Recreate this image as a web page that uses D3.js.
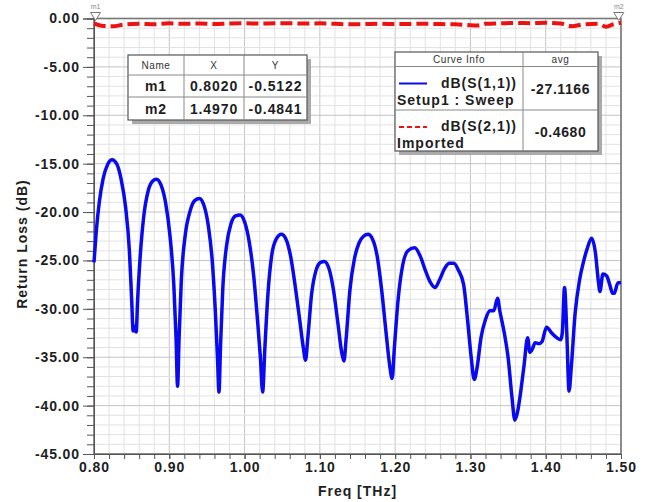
<!DOCTYPE html>
<html>
<head>
<meta charset="utf-8">
<script src="https://cdn.jsdelivr.net/npm/d3@7"></script>
<style>
  body { margin: 0; background: #fff; }
  text { font-family: "Liberation Sans", Arial, sans-serif; }
</style>
</head>
<body>
<div id="chart"></div>
<script>
// S11 (blue): [freq THz, dB]
var s11 = [
  [0.800,-25.2],[0.803,-22.0],[0.807,-19.0],[0.812,-16.6],[0.818,-15.1],[0.824,-14.6],[0.830,-15.0],
  [0.836,-16.6],[0.842,-19.5],[0.847,-24.0],[0.850,-29.0],[0.852,-32.3],[0.854,-31.8],[0.856,-32.4],
  [0.858,-29.0],[0.861,-25.0],[0.866,-20.5],[0.872,-17.8],[0.878,-16.8],[0.883,-16.6],[0.889,-17.2],
  [0.895,-19.0],[0.901,-22.5],[0.906,-27.5],[0.909,-33.0],[0.911,-38.0],[0.913,-33.0],[0.916,-27.0],
  [0.921,-22.5],[0.928,-19.8],[0.934,-18.8],[0.940,-18.6],[0.946,-19.3],[0.952,-21.5],[0.957,-25.0],
  [0.961,-30.0],[0.964,-35.0],[0.966,-38.6],[0.968,-34.0],[0.971,-28.0],[0.976,-23.5],[0.982,-21.2],
  [0.988,-20.4],[0.994,-20.3],[1.000,-21.0],[1.006,-23.0],[1.012,-26.5],[1.017,-31.0],[1.021,-35.0],
  [1.024,-38.6],[1.027,-34.0],[1.031,-28.5],[1.036,-24.5],[1.042,-22.8],[1.049,-22.3],[1.055,-22.8],
  [1.061,-24.5],[1.067,-27.5],[1.073,-31.0],[1.078,-34.0],[1.081,-35.3],[1.084,-33.0],[1.089,-28.5],
  [1.095,-26.0],[1.101,-25.2],[1.106,-25.1],[1.112,-25.8],[1.118,-28.0],[1.124,-31.5],[1.129,-34.5],
  [1.132,-35.4],[1.135,-33.0],[1.140,-28.0],[1.146,-24.8],[1.152,-23.2],[1.158,-22.5],[1.164,-22.3],
  [1.170,-22.8],[1.176,-24.5],[1.182,-28.0],[1.188,-32.5],[1.193,-36.0],[1.196,-37.2],[1.199,-34.0],
  [1.204,-29.0],[1.210,-25.5],[1.217,-24.0],[1.226,-23.7],[1.233,-24.5],[1.240,-26.0],[1.247,-27.3],
  [1.253,-27.8],[1.259,-27.0],[1.266,-25.8],[1.272,-25.3],[1.278,-25.3],[1.284,-26.0],[1.291,-27.5],
  [1.296,-31.0],[1.301,-35.0],[1.305,-37.3],[1.309,-36.0],[1.314,-33.0],[1.320,-31.1],[1.326,-30.2],
  [1.331,-30.2],[1.336,-28.9],[1.339,-30.2],[1.345,-32.5],[1.350,-35.0],[1.355,-39.0],[1.359,-41.5],
  [1.363,-40.5],[1.366,-39.0],[1.371,-36.0],[1.376,-33.0],[1.379,-34.5],[1.382,-34.2],[1.386,-33.5],
  [1.391,-33.6],[1.395,-33.4],[1.401,-31.9],[1.408,-32.5],[1.415,-33.0],[1.420,-33.2],[1.422,-32.5],
  [1.425,-27.8],[1.428,-32.5],[1.431,-38.5],[1.434,-36.0],[1.439,-30.5],[1.445,-27.0],[1.450,-25.2],
  [1.455,-23.8],[1.461,-22.7],[1.466,-24.2],[1.470,-27.2],[1.472,-28.2],[1.476,-26.4],[1.481,-26.6],
  [1.485,-27.5],[1.489,-28.4],[1.491,-28.4],[1.496,-27.3],[1.500,-27.3]
];

// S21 (red dashed), imported
var s21 = [
  [0.800,-0.51],[0.810,-0.75],[0.825,-0.80],[0.840,-0.62],[0.860,-0.55],[0.880,-0.60],[0.900,-0.50],
  [0.920,-0.55],[0.940,-0.52],[0.960,-0.58],[0.980,-0.52],[1.000,-0.50],[1.020,-0.52],[1.040,-0.50],
  [1.060,-0.50],[1.080,-0.52],[1.100,-0.50],[1.120,-0.55],[1.140,-0.60],[1.160,-0.58],[1.180,-0.55],
  [1.200,-0.58],[1.220,-0.56],[1.240,-0.55],[1.260,-0.58],[1.280,-0.60],[1.300,-0.70],[1.310,-0.72],
  [1.320,-0.55],[1.340,-0.50],[1.360,-0.45],[1.380,-0.48],[1.400,-0.45],[1.420,-0.52],[1.435,-0.80],
  [1.450,-0.60],[1.470,-0.55],[1.480,-0.85],[1.490,-0.60],[1.497,-0.48],[1.500,-0.45]
];

var markerNames = ["m1", "m2"];
var markerX = [0.8020, 1.4970];
var markerY = [-0.5122, -0.4841];

var curveNames = ["dB(S(1,1))", "dB(S(2,1))"];
var curveSetups = ["Setup1 : Sweep", "Imported"];
var curveAvg = ["-27.1166", "-0.4680"];

var xTicks = [0.8, 0.9, 1.0, 1.1, 1.2, 1.3, 1.4, 1.5];
var yTicks = [0, -5, -10, -15, -20, -25, -30, -35, -40, -45];

var width = 646, height = 502;
var pL = 94, pR = 621, pT = 18.5, pB = 454;
var ink = "#1e1e1e";

var svg = d3.select("#chart").append("svg")
  .attr("width", width)
  .attr("height", height);

var x = d3.scaleLinear().domain([0.8, 1.5]).range([pL, pR]);
var y = d3.scaleLinear().domain([0, -45]).range([pT, pB]);

// grid
var xMinor = d3.range(0, 36).map(function (i) { return 0.8 + i * 0.02; });
var yMinor = d3.range(0, 46).map(function (i) { return -i; });

var grid = svg.append("g");
grid.selectAll(".gx").data(xMinor).enter().append("line")
  .attr("x1", function (d) { return x(d); }).attr("x2", function (d) { return x(d); })
  .attr("y1", pT).attr("y2", pB)
  .attr("stroke", function (d, i) { return i % 5 === 0 ? "#c4c4c4" : "#e2e2e2"; })
  .attr("stroke-width", 1);
grid.selectAll(".gy").data(yMinor).enter().append("line")
  .attr("x1", pL).attr("x2", pR)
  .attr("y1", function (d) { return y(d); }).attr("y2", function (d) { return y(d); })
  .attr("stroke", function (d, i) { return i % 5 === 0 ? "#c4c4c4" : "#e2e2e2"; })
  .attr("stroke-width", 1);

// frame
svg.append("rect")
  .attr("x", pL).attr("y", pT)
  .attr("width", pR - pL).attr("height", pB - pT)
  .attr("fill", "none").attr("stroke", "#777").attr("stroke-width", 1.6);

function fmt2(d) { return d.toFixed(2); }

// y axis
var yAxis = d3.axisLeft(y).tickValues(yTicks).tickFormat(fmt2).tickSize(11).tickPadding(3);
var gy = svg.append("g").attr("transform", "translate(" + pL + ",0)").call(yAxis);
gy.selectAll(".tick text").attr("font-size", 14).attr("letter-spacing", 0.9)
  .attr("font-weight", "bold").attr("fill", ink);
gy.selectAll("line").attr("stroke", "#555");
gy.select(".domain").attr("stroke", "#555");
var yAxisMinor = d3.axisLeft(y).tickValues(yMinor).tickFormat("").tickSize(7);
svg.append("g").attr("transform", "translate(" + pL + ",0)").call(yAxisMinor)
  .call(function (g) { g.select(".domain").remove(); g.selectAll("line").attr("stroke", "#555"); });

// x axis
var xAxis = d3.axisBottom(x).tickValues(xTicks).tickFormat(fmt2).tickSize(5).tickPadding(3);
var gx = svg.append("g").attr("transform", "translate(0," + pB + ")").call(xAxis);
gx.selectAll(".tick text").attr("font-size", 14).attr("letter-spacing", 0.9)
  .attr("font-weight", "bold").attr("fill", ink);
gx.selectAll("line").attr("stroke", "#555");
gx.select(".domain").attr("stroke", "#555");
var xAxisMinor = d3.axisBottom(x).tickValues(xMinor).tickFormat("").tickSize(5);
svg.append("g").attr("transform", "translate(0," + pB + ")").call(xAxisMinor)
  .call(function (g) { g.select(".domain").remove(); g.selectAll("line").attr("stroke", "#555"); });

// axis titles
svg.append("text")
  .attr("x", (pL + pR) / 2).attr("y", 496)
  .attr("text-anchor", "middle")
  .attr("font-size", 14).attr("letter-spacing", 1).attr("font-weight", "bold").attr("fill", ink)
  .text("Freq [THz]");
svg.append("text")
  .attr("transform", "translate(27,244) rotate(-90)")
  .attr("text-anchor", "middle")
  .attr("font-size", 14).attr("letter-spacing", 1).attr("font-weight", "bold").attr("fill", ink)
  .text("Return Loss (dB)");

// curves
var line = d3.line()
  .x(function (d) { return x(d[0]); })
  .y(function (d) { return y(d[1]); })
  .curve(d3.curveMonotoneX);

svg.append("path").datum(s11)
  .attr("d", line)
  .attr("fill", "none").attr("stroke", "#0a0af0").attr("stroke-width", 3.5)
  .attr("stroke-linejoin", "round");

svg.append("path").datum(s21)
  .attr("d", line)
  .attr("fill", "none").attr("stroke", "#ee1111").attr("stroke-width", 4)
  .attr("stroke-dasharray", "12,5");

// markers
var mk = svg.selectAll(".mk").data(markerNames).enter().append("g")
  .attr("transform", function (d, i) { return "translate(" + x(markerX[i]) + "," + pT + ")"; });
mk.append("path")
  .attr("d", "M-5,-6 L5,-6 L0,2 Z")
  .attr("fill", "#fff").attr("stroke", "#777").attr("stroke-width", 1);
mk.append("text")
  .attr("y", -10).attr("text-anchor", "middle")
  .attr("font-size", 7).attr("fill", "#888")
  .text(function (d) { return d; });

// marker table
var tx = 128, ty = 55, colW = [56, 60, 63], rowH = [20, 22, 23];
var tw = d3.sum(colW), th = d3.sum(rowH);
var tab = svg.append("g");
tab.append("rect").attr("x", tx + 4).attr("y", ty + 4).attr("width", tw).attr("height", th).attr("fill", "#aaa");
tab.append("rect").attr("x", tx).attr("y", ty).attr("width", tw).attr("height", th)
  .attr("fill", "#fff").attr("stroke", "#555").attr("stroke-width", 1.2);
var cx = [tx, tx + colW[0], tx + colW[0] + colW[1], tx + tw];
var ry = [ty, ty + rowH[0], ty + rowH[0] + rowH[1], ty + th];
[1, 2].forEach(function (i) {
  tab.append("line").attr("x1", cx[i]).attr("x2", cx[i]).attr("y1", ty).attr("y2", ty + th).attr("stroke", "#888");
  tab.append("line").attr("x1", tx).attr("x2", tx + tw).attr("y1", ry[i]).attr("y2", ry[i]).attr("stroke", "#888");
});
["Name", "X", "Y"].forEach(function (h, j) {
  tab.append("text").attr("x", (cx[j] + cx[j + 1]) / 2).attr("y", ty + 14)
    .attr("text-anchor", "middle").attr("font-size", 10).attr("letter-spacing", 0.6)
    .attr("fill", "#333").text(h);
});
markerNames.forEach(function (m, i) {
  var cells = [m, markerX[i].toFixed(4), markerY[i].toFixed(4)];
  cells.forEach(function (c, j) {
    tab.append("text").attr("x", (cx[j] + cx[j + 1]) / 2).attr("y", (ry[i + 1] + ry[i + 2]) / 2 + 5)
      .attr("text-anchor", "middle").attr("font-size", 14).attr("letter-spacing", 0.9)
      .attr("font-weight", "bold").attr("fill", ink)
      .text(c);
  });
});

// legend table
var lx = 395, ly = 52, lw = 203, lh = 99, lc = 523, lr = [66.5, 110];
var leg = svg.append("g");
leg.append("rect").attr("x", lx + 4).attr("y", ly + 4).attr("width", lw).attr("height", lh).attr("fill", "#aaa");
leg.append("rect").attr("x", lx).attr("y", ly).attr("width", lw).attr("height", lh)
  .attr("fill", "#fff").attr("stroke", "#555").attr("stroke-width", 1.2);
leg.append("line").attr("x1", lc).attr("x2", lc).attr("y1", ly).attr("y2", ly + lh).attr("stroke", "#888");
lr.forEach(function (r) {
  leg.append("line").attr("x1", lx).attr("x2", lx + lw).attr("y1", r).attr("y2", r).attr("stroke", "#888");
});
leg.append("text").attr("x", (lx + lc) / 2).attr("y", ly + 11).attr("text-anchor", "middle")
  .attr("font-size", 10).attr("letter-spacing", 0.6).attr("fill", "#333").text("Curve Info");
leg.append("text").attr("x", (lc + lx + lw) / 2).attr("y", ly + 11).attr("text-anchor", "middle")
  .attr("font-size", 10).attr("letter-spacing", 0.6).attr("fill", "#333").text("avg");
var legColor = ["#0a0af0", "#ee1111"];
curveNames.forEach(function (nm, i) {
  var t = lr[i];
  leg.append("line").attr("x1", lx + 4).attr("x2", lx + 32).attr("y1", t + 17).attr("y2", t + 17)
    .attr("stroke", legColor[i]).attr("stroke-width", 2)
    .attr("stroke-dasharray", i === 1 ? "5,3" : null);
  leg.append("text").attr("x", lc - 6).attr("y", t + 21).attr("text-anchor", "end")
    .attr("font-size", 14).attr("letter-spacing", 1).attr("font-weight", "bold").attr("fill", ink).text(nm);
  leg.append("text").attr("x", lx + 2).attr("y", t + 38).attr("font-size", 14).attr("letter-spacing", 1)
    .attr("font-weight", "bold").attr("fill", ink).text(curveSetups[i]);
  leg.append("text").attr("x", (lc + lx + lw) / 2).attr("y", t + 27).attr("text-anchor", "middle")
    .attr("font-size", 14).attr("letter-spacing", 0.6).attr("font-weight", "bold").attr("fill", ink).text(curveAvg[i]);
});
</script>
</body>
</html>
